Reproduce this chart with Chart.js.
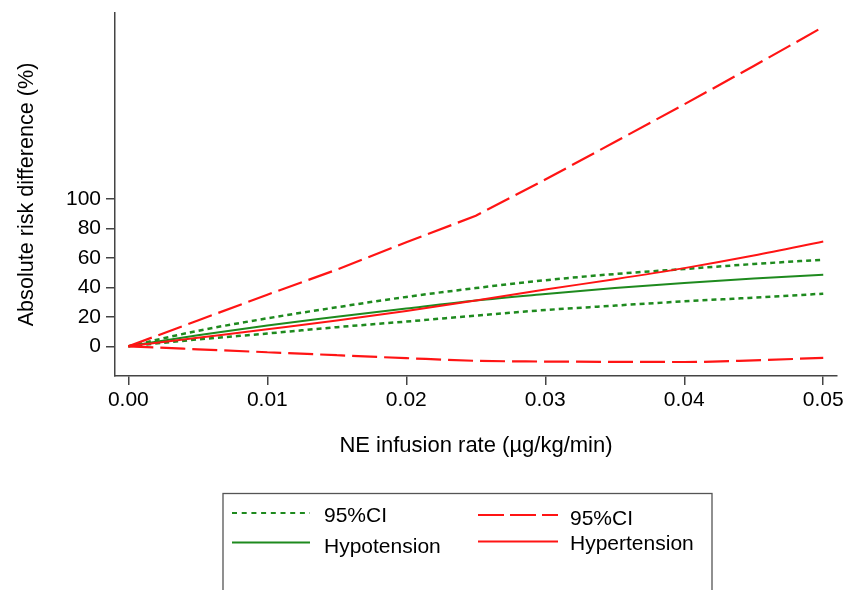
<!DOCTYPE html>
<html>
<head>
<meta charset="utf-8">
<script src="https://cdn.jsdelivr.net/npm/chart.js@4.4.1/dist/chart.umd.min.js"></script>
<style>
  html, body { margin: 0; padding: 0; background: #fff; overflow: hidden; }
  #wrap { position: relative; width: 846px; height: 590px; }
  #c { position: absolute; left: 0; top: 0; }
  #legend { position: absolute; left: 0; top: 0; }
</style>
</head>
<body>
<div id="wrap">
<canvas id="c" width="846" height="590"></canvas>
<svg id="legend" width="846" height="590" xmlns="http://www.w3.org/2000/svg"></svg>
</div>
<script>
// ---- data ----
const rates = [0, 0.005, 0.01, 0.015, 0.02, 0.025, 0.03, 0.035, 0.04, 0.045, 0.05];
const hypotension      = [0, 7.5, 14.2, 20, 25.6, 31, 35.4, 39.5, 43, 46, 48.5];
const hypotensionUpper = [0, 10.5, 19, 26.5, 33.5, 39.5, 44.8, 49, 52.4, 55.8, 58.7];
const hypotensionLower = [0, 4.7, 8.7, 13, 16.8, 20.8, 24.6, 27.6, 30.5, 33, 35.7];
const hypertension      = [0, 5.8, 11.6, 17.5, 24, 31, 38.5, 45.5, 53, 61.5, 71];
const hypertensionUpper = [0, 17.5, 35, 52, 70.5, 88.5, 113, 138.5, 164, 190, 216.5];
const hypertensionLower = [0, -2, -4, -6, -8, -9.8, -10.3, -10.5, -10.6, -9.5, -7.8];
const xTickValues = [0, 0.01, 0.02, 0.03, 0.04, 0.05];
const yTickValues = [0, 20, 40, 60, 80, 100];
const xTitle = 'NE infusion rate (\u00b5g/kg/min)';
const yTitle = 'Absolute risk difference (%)';
const legendLabels = ['95%CI', 'Hypotension', '95%CI', 'Hypertension'];

const GREEN = '#1e8a1e';
const RED = '#ff1414';
const AXIS = '#444';
const FONT = "'Liberation Sans', Arial, Helvetica, sans-serif";

function pts(ys) { return rates.map((x, i) => ({ x: x, y: ys[i] })); }

const base = { pointRadius: 0, pointHoverRadius: 0, fill: false };
const datasets = [
  Object.assign({ label: 'Hypertension', data: pts(hypertension), borderColor: RED, borderWidth: 2, cubicInterpolationMode: 'monotone' }, base),
  Object.assign({ label: '95%CI', data: pts(hypertensionUpper), borderColor: RED, borderWidth: 2.2, borderDash: [25, 7], tension: 0 }, base),
  Object.assign({ label: '95%CI', data: pts(hypertensionLower), borderColor: RED, borderWidth: 2.2, borderDash: [25, 7], cubicInterpolationMode: 'monotone' }, base),
  Object.assign({ label: 'Hypotension', data: pts(hypotension), borderColor: GREEN, borderWidth: 2, cubicInterpolationMode: 'monotone' }, base),
  Object.assign({ label: '95%CI', data: pts(hypotensionUpper), borderColor: GREEN, borderWidth: 2.5, borderDash: [5, 4], cubicInterpolationMode: 'monotone' }, base),
  Object.assign({ label: '95%CI', data: pts(hypotensionLower), borderColor: GREEN, borderWidth: 2.5, borderDash: [5, 4], cubicInterpolationMode: 'monotone' }, base)
];

new Chart(document.getElementById('c'), {
  type: 'line',
  data: { datasets: datasets },
  options: {
    responsive: false,
    animation: false,
    events: [],
    layout: { padding: { top: 13, right: 9, bottom: 120, left: 0 } },
    plugins: { legend: { display: false }, tooltip: { enabled: false } },
    scales: {
      x: {
        type: 'linear',
        min: -0.00096,
        max: 0.05099,
        afterBuildTicks: s => { s.ticks = xTickValues.map(v => ({ value: v })); },
        afterFit: s => { s.height = 94; s.paddingLeft = 0; s.paddingRight = 0; },
        ticks: {
          autoSkip: false, maxRotation: 0, padding: 3,
          color: '#000', font: { family: FONT, size: 21 },
          callback: v => Number(v).toFixed(2)
        },
        grid: { drawOnChartArea: false, drawTicks: true, tickLength: 9, color: AXIS, lineWidth: 1.5 },
        border: { display: true, color: AXIS, width: 1.5 },
        title: { display: true, text: xTitle, color: '#000', font: { family: FONT, size: 22 }, padding: { top: 0, bottom: 11 } }
      },
      y: {
        type: 'linear',
        min: -20.1,
        max: 225.9,
        afterBuildTicks: s => { s.ticks = yTickValues.map(v => ({ value: v })); },
        afterFit: s => { s.width = 115; s.paddingTop = 0; s.paddingBottom = 0; },
        ticks: {
          autoSkip: false, padding: 5,
          color: '#000', font: { family: FONT, size: 21 },
          callback: v => String(v)
        },
        grid: { drawOnChartArea: false, drawTicks: true, tickLength: 9, color: AXIS, lineWidth: 1.5 },
        border: { display: true, color: AXIS, width: 1.5 },
        title: { display: true, text: yTitle, color: '#000', font: { family: FONT, size: 21.6 }, padding: { top: 14, bottom: 0 } }
      }
    }
  }
});

// ---- legend (SVG, real text) ----
(function () {
  const svg = document.getElementById('legend');
  const NS = 'http://www.w3.org/2000/svg';
  function el(tag, attrs, text) {
    const e = document.createElementNS(NS, tag);
    for (const k in attrs) e.setAttribute(k, attrs[k]);
    if (text !== undefined) e.textContent = text;
    svg.appendChild(e);
    return e;
  }
  el('rect', { x: 223, y: 493.5, width: 489, height: 140, fill: 'none', stroke: '#555', 'stroke-width': 1.3 });
  const items = [
    { x1: 232, x2: 310, ly: 513, tx: 324, ty: 514.5, color: GREEN, dash: '5,4.7', w: 2.2, text: legendLabels[0] },
    { x1: 232, x2: 310, ly: 542.5, tx: 324, ty: 545.5, color: GREEN, dash: '', w: 2, text: legendLabels[1] },
    { x1: 478, x2: 558, ly: 515, tx: 570, ty: 517, color: RED, dash: '26,6', w: 2.2, text: legendLabels[2] },
    { x1: 478, x2: 558, ly: 541.5, tx: 570, ty: 542.5, color: RED, dash: '', w: 2, text: legendLabels[3] }
  ];
  items.forEach(it => {
    const a = { x1: it.x1, y1: it.ly, x2: it.x2, y2: it.ly, stroke: it.color, 'stroke-width': it.w };
    if (it.dash) a['stroke-dasharray'] = it.dash;
    el('line', a);
    el('text', { x: it.tx, y: it.ty, 'dominant-baseline': 'central', 'font-family': FONT, 'font-size': 21, fill: '#000' }, it.text);
  });
})();
</script>
</body>
</html>
